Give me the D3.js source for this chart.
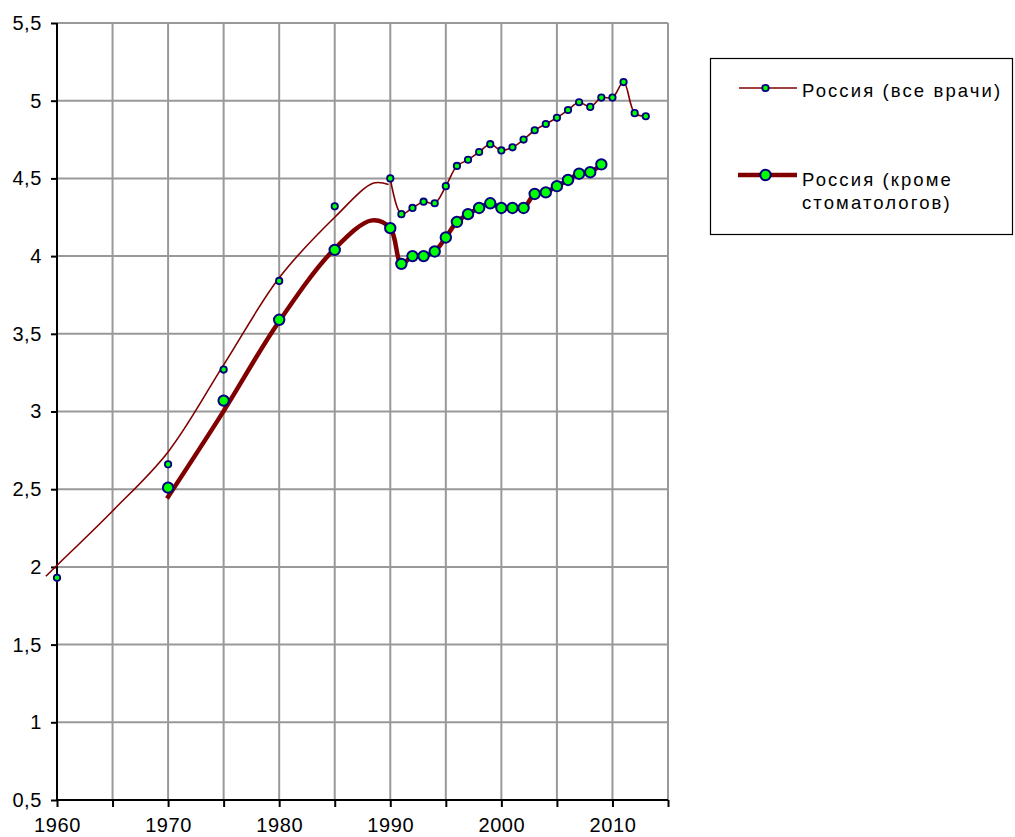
<!DOCTYPE html>
<html><head><meta charset="utf-8">
<script src="https://cdn.jsdelivr.net/npm/d3@7"></script>
<style>
body{margin:0;background:#fff;}
text{font-family:"Liberation Sans",Arial,sans-serif;fill:#000;}
</style></head>
<body>
<svg id="chart" width="1015" height="837"></svg>
<script>
// ---- data ----
const seriesNames = ["Россия (все врачи)", "Россия (кроме", "стоматологов)"];
const yearsAll = [1960,1970,1975,1980,1985,1990,1991,1992,1993,1994,1995,1996,1997,1998,1999,2000,2001,2002,2003,2004,2005,2006,2007,2008,2009,2010,2011,2012,2013];
const valuesAll = [1.93,2.66,3.27,3.84,4.32,4.50,4.27,4.31,4.35,4.34,4.45,4.58,4.62,4.67,4.72,4.68,4.70,4.75,4.81,4.85,4.89,4.94,4.99,4.96,5.02,5.02,5.12,4.92,4.90];
const yearsExcl = [1970,1975,1980,1985,1990,1991,1992,1993,1994,1995,1996,1997,1998,1999,2000,2001,2002,2003,2004,2005,2006,2007,2008,2009];
const valuesExcl = [2.51,3.07,3.59,4.04,4.18,3.95,4.00,4.00,4.03,4.12,4.22,4.27,4.31,4.34,4.31,4.31,4.31,4.40,4.41,4.45,4.49,4.53,4.54,4.59];
// smoothed early curves (line only, no markers)
const thinEarlyYears = [1959,1960,1965,1970,1975,1980,1985,1988.5,1989.85];
const thinEarlyValues = [1.94,2.01,2.36,2.74,3.30,3.86,4.25,4.47,4.46];
const thickEarlyYears = [1969.9,1974.8,1979.9,1984.9,1988.35];
const thickEarlyValues = [2.44,2.98,3.57,4.04,4.23];
const yTicks = [0.5,1,1.5,2,2.5,3,3.5,4,4.5,5,5.5];
const xTickLabels = [1960,1970,1980,1990,2000,2010];
const xGrid = [1965,1970,1975,1980,1985,1990,1995,2000,2005,2010,2015];

// ---- layout ----
const svg = d3.select("#chart");
const x = d3.scaleLinear().domain([1960,2015]).range([57,668]);
const y = d3.scaleLinear().domain([0.5,5.5]).range([800,23]);
const fmt = v => String(v).replace(".", ",");

// grid
svg.append("g").selectAll("line").data(yTicks.filter(d=>d>0.5)).join("line")
  .attr("x1",57).attr("x2",668).attr("y1",d=>y(d)).attr("y2",d=>y(d))
  .attr("stroke","#999").attr("stroke-width",2);
svg.append("g").selectAll("line").data(xGrid).join("line")
  .attr("x1",d=>x(d)).attr("x2",d=>x(d)).attr("y1",23).attr("y2",800)
  .attr("stroke","#999").attr("stroke-width",2);

// axes
const yAxis = d3.axisLeft(y).tickValues(yTicks).tickSize(6).tickPadding(9).tickFormat(fmt);
const gy = svg.append("g").attr("transform","translate(57,0)").call(yAxis);
const xAxis = d3.axisBottom(x).tickValues(d3.range(1960,2016,5)).tickSize(7).tickPadding(11)
  .tickFormat(d => xTickLabels.includes(d) ? d : "");
const gx = svg.append("g").attr("transform","translate(0,800)").call(xAxis);
[gx,gy].forEach(g=>{
  g.select(".domain").attr("stroke","#000").attr("stroke-width",2);
  g.selectAll(".tick line").attr("stroke","#000").attr("stroke-width",2);
  g.selectAll("text").attr("font-family","Liberation Sans, Arial, sans-serif")
    .attr("font-size",20).attr("fill","#000").attr("letter-spacing",0.6);
});
gx.select(".domain").attr("d","M57,0H668");
gy.select(".domain").attr("d","M0,800V23");

// lines
const line = d3.line().x(d=>x(d[0])).y(d=>y(d[1])).curve(d3.curveCatmullRom.alpha(0.5));
const thinEarly = thinEarlyYears.map((yr,i)=>[yr,thinEarlyValues[i]]);
const thinLate = yearsAll.map((yr,i)=>[yr,valuesAll[i]]).filter(d=>d[0]>=1990);
const thick = thickEarlyYears.map((yr,i)=>[yr,thickEarlyValues[i]])
  .concat(yearsExcl.map((yr,i)=>[yr,valuesExcl[i]]).filter(d=>d[0]>=1990));

const col = "#800000";
svg.append("path").datum(thinEarly).attr("d",line).attr("fill","none").attr("stroke",col).attr("stroke-width",1.6);
svg.append("path").datum(thinLate).attr("d",line).attr("fill","none").attr("stroke",col).attr("stroke-width",1.6);
svg.append("path").datum(thick).attr("d",line).attr("fill","none").attr("stroke",col).attr("stroke-width",4.5);

// markers
svg.append("g").selectAll("circle").data(yearsAll.map((yr,i)=>[yr,valuesAll[i]])).join("circle")
  .attr("cx",d=>x(d[0])).attr("cy",d=>y(d[1])).attr("r",3.2)
  .attr("fill","#00ff00").attr("stroke","#000080").attr("stroke-width",1.8);
svg.append("g").selectAll("circle").data(yearsExcl.map((yr,i)=>[yr,valuesExcl[i]])).join("circle")
  .attr("cx",d=>x(d[0])).attr("cy",d=>y(d[1])).attr("r",5.2)
  .attr("fill","#00ff00").attr("stroke","#000080").attr("stroke-width",2);

// legend
const lg = svg.append("g");
lg.append("rect").attr("x",710.5).attr("y",58.5).attr("width",302).attr("height",176)
  .attr("fill","#fff").attr("stroke","#000").attr("stroke-width",1.2);
lg.append("line").attr("x1",739).attr("x2",797).attr("y1",88).attr("y2",88).attr("stroke",col).attr("stroke-width",1.6);
lg.append("circle").attr("cx",765.5).attr("cy",88).attr("r",3.2).attr("fill","#00ff00").attr("stroke","#000080").attr("stroke-width",1.8);
lg.append("line").attr("x1",738).attr("x2",797).attr("y1",175).attr("y2",175).attr("stroke",col).attr("stroke-width",4.5);
lg.append("circle").attr("cx",765.5).attr("cy",175).attr("r",5.2).attr("fill","#00ff00").attr("stroke","#000080").attr("stroke-width",2);
const lt = [[seriesNames[0],96.5],[seriesNames[1],186],[seriesNames[2],208.5]];
lg.selectAll("text").data(lt).join("text")
  .attr("x",802).attr("y",d=>d[1]).attr("font-size",18.5).attr("letter-spacing",2.1).text(d=>d[0]);
</script>
</body></html>
